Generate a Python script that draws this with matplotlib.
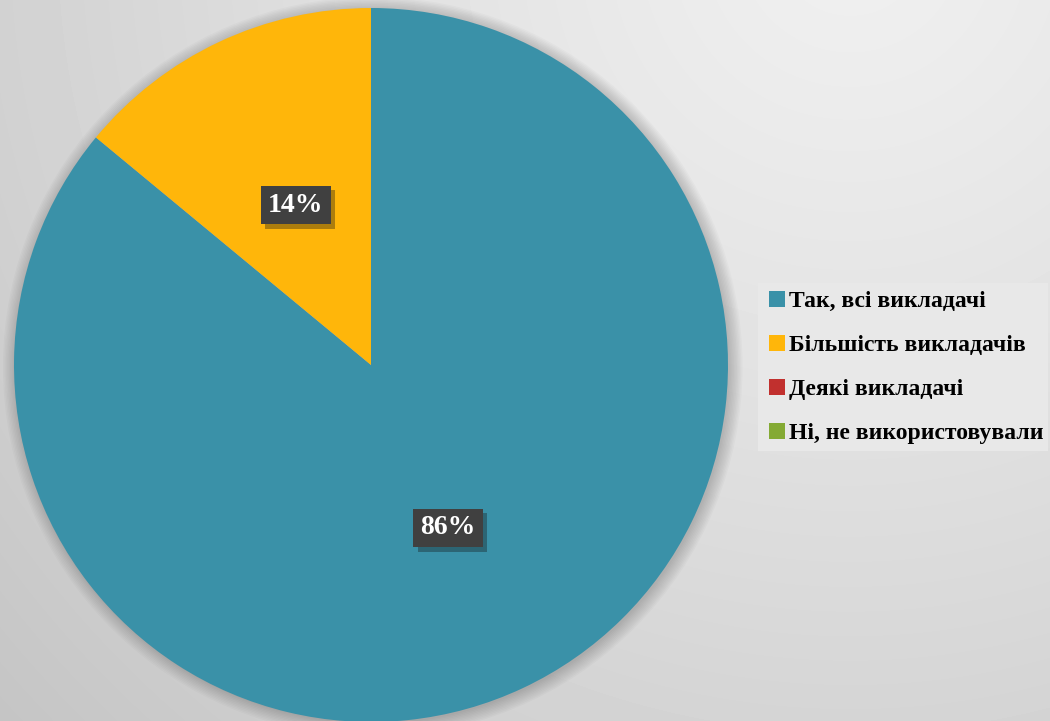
import numpy as np
import matplotlib.pyplot as plt
from matplotlib.patches import Patch, Circle
import matplotlib.patheffects as pe

labels = ['Так, всі викладачі', 'Більшість викладачів', 'Деякі викладачі', 'Ні, не використовували']
values = [86, 14, 0, 0]
colors = ['#3A91A8', '#FFB60A', '#C1302E', '#84AA34']

plt.rcParams['font.family'] = ['Liberation Serif', 'DejaVu Serif']

W, H = 1050, 721
fig = plt.figure(figsize=(W / 100, H / 100), dpi=100)

# radial grey background
bg = fig.add_axes([0, 0, 1, 1])
yy, xx = np.mgrid[0:H, 0:W]
d = np.sqrt((xx - 850) ** 2 + (yy + 60) ** 2) / 1100
g = 0.94 - 0.16 * d ** 1.2
bg.imshow(g, cmap='gray', vmin=0, vmax=1, extent=[0, W, H, 0], aspect='auto',
          interpolation='bilinear')
bg.set_xlim(0, W)
bg.set_ylim(H, 0)
bg.axis('off')

# pie
cx, cy, r = 371, 365, 357
ax = fig.add_axes([(cx - r) / W, (H - cy - r) / H, 2 * r / W, 2 * r / H])

# soft shadow round the pie
for k in range(10):
    ax.add_patch(Circle((0.005, -0.005), 1 + 0.004 * k, color='black',
                        alpha=0.02, lw=0, zorder=0, clip_on=False))

wedges, _ = ax.pie(values, colors=colors, startangle=90, counterclock=False,
                   radius=1, wedgeprops=dict(linewidth=0))
for w in wedges:
    w.set_zorder(2)
ax.set_xlim(-1, 1)
ax.set_ylim(-1, 1)
ax.set_aspect('equal')
ax.axis('off')

# percentage labels
pos = [(448, 528), (296, 205)]
for v, (px, py) in zip(values[:2], pos):
    t = ax.text((px - cx) / r, -(py - cy) / r, '%d%%' % v,
                ha='center', va='center', fontsize=20, fontweight='bold',
                color='white', zorder=5,
                bbox=dict(boxstyle='square,pad=0.25', fc='#404040', ec='none'))
    t.get_bbox_patch().set_path_effects(
        [pe.SimplePatchShadow(offset=(3, -3), alpha=0.35), pe.Normal()])

# legend
fig.patches.append(plt.Rectangle((758 / W, 1 - 451 / H), 290 / W, 168 / H,
                                 transform=fig.transFigure, fc='#e8e8e8',
                                 ec='none', zorder=1))
handles = [Patch(fc=c, ec='none') for c in colors]
leg = fig.legend(handles, labels, loc='upper left',
                 bbox_to_anchor=(764 / W, 1 - 286 / H),
                 frameon=False,
                 prop={'weight': 'bold', 'size': 17},
                 handlelength=0.7, handleheight=0.7, handletextpad=0.15,
                 labelspacing=0.95, borderaxespad=0, borderpad=0.2)

fig.savefig('out.png', dpi=100)
